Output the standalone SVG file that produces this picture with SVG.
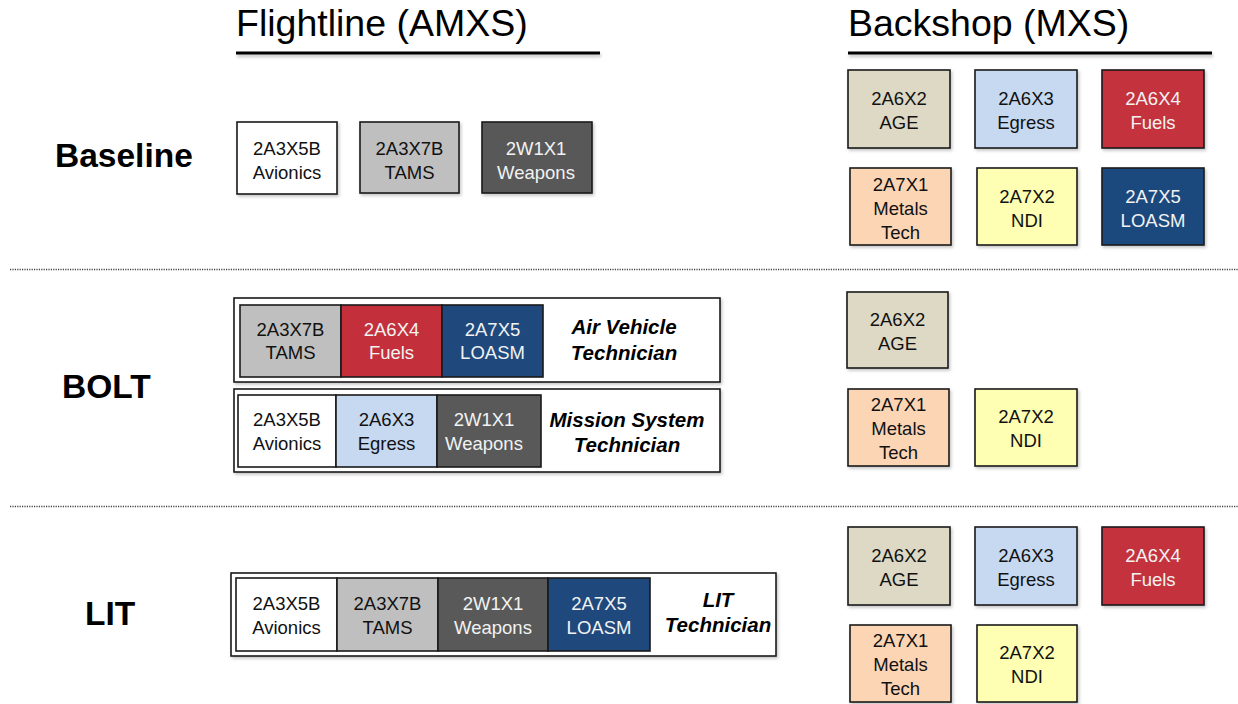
<svg xmlns="http://www.w3.org/2000/svg" width="1238" height="704" viewBox="0 0 1238 704">
  <defs>
    <filter id="shadow" x="-10%" y="-10%" width="130%" height="140%">
      <feDropShadow dx="1.5" dy="2" stdDeviation="1.5" flood-color="#000" flood-opacity="0.22"/>
    </filter>
    <filter id="rule-shadow" filterUnits="userSpaceOnUse" x="0" y="40" width="1238" height="30">
      <feDropShadow dx="1" dy="2.5" stdDeviation="1.5" flood-color="#000" flood-opacity="0.25"/>
    </filter>
    <style>
      .box { stroke: #1a1a1a; stroke-width: 1.6; filter: url(#shadow); }
      .cell { stroke: #1a1a1a; stroke-width: 1.6; }
      .frame { fill: #ffffff; stroke: #1a1a1a; stroke-width: 1.6; filter: url(#shadow); }
      .lbl { font-family: "Liberation Sans", Arial, sans-serif; font-size: 18.5px; text-anchor: middle; fill: #111; }
      .lbl.light { fill: #f2f2f2; }
      .head { font-family: "Liberation Sans", Arial, sans-serif; font-size: 37.5px; fill: #000; }
      .row { font-family: "Liberation Sans", Arial, sans-serif; font-size: 33.5px; font-weight: bold; fill: #000; }
      .role { font-family: "Liberation Sans", Arial, sans-serif; font-size: 20.5px; font-weight: bold; font-style: italic; text-anchor: middle; fill: #000; }
      .rule { fill: #000; filter: url(#rule-shadow); }
      .sep { stroke: #444; stroke-width: 1.5; stroke-dasharray: 1.2 1.2; }
      .white { fill: #ffffff; } .grey { fill: #bfbfbf; } .dark { fill: #595959; }
      .beige { fill: #ddd9c4; } .blue { fill: #c6d9f1; } .red { fill: #c3303c; }
      .peach { fill: #fcd5b5; } .yellow { fill: #ffffb3; } .navy { fill: #1f497d; }
    </style>
  </defs>

  <!-- column headings -->
  <g id="heading-flightline">
    <text class="head" x="236" y="36">Flightline (AMXS)</text>
    <rect class="rule" x="236" y="51.5" width="364" height="3"/>
  </g>
  <g id="heading-backshop">
    <text class="head" x="848" y="36">Backshop (MXS)</text>
    <rect class="rule" x="848" y="51.5" width="364" height="3"/>
  </g>

  <!-- row separators -->
  <g id="connectors">
    <line class="sep" x1="10" y1="269.5" x2="1238" y2="269.5"/>
    <line class="sep" x1="10" y1="506.5" x2="1238" y2="506.5"/>
  </g>

  <!-- row labels -->
  <text class="row" x="55" y="167">Baseline</text>
  <text class="row" x="62" y="398">BOLT</text>
  <text class="row" x="85" y="625">LIT</text>

  <!-- ===== Baseline: flightline ===== -->
  <g id="base-avionics">
    <rect class="box white" x="237" y="122" width="100" height="72"/>
    <text class="lbl" x="287" y="155">2A3X5B</text>
    <text class="lbl" x="287" y="179">Avionics</text>
  </g>
  <g id="base-tams">
    <rect class="box grey" x="360" y="122" width="99" height="71"/>
    <text class="lbl" x="409.5" y="155">2A3X7B</text>
    <text class="lbl" x="409.5" y="179">TAMS</text>
  </g>
  <g id="base-weapons">
    <rect class="box dark" x="482" y="122" width="110" height="71"/>
    <text class="lbl light" x="536" y="155">2W1X1</text>
    <text class="lbl light" x="536" y="179">Weapons</text>
  </g>

  <!-- ===== Baseline: backshop ===== -->
  <g id="base-age">
    <rect class="box beige" x="848" y="70" width="102" height="78"/>
    <text class="lbl" x="899" y="105">2A6X2</text>
    <text class="lbl" x="899" y="129">AGE</text>
  </g>
  <g id="base-egress">
    <rect class="box blue" x="975" y="70" width="102" height="78"/>
    <text class="lbl" x="1026" y="105">2A6X3</text>
    <text class="lbl" x="1026" y="129">Egress</text>
  </g>
  <g id="base-fuels">
    <rect class="box red" x="1102" y="70" width="102" height="78"/>
    <text class="lbl light" x="1153" y="105">2A6X4</text>
    <text class="lbl light" x="1153" y="129">Fuels</text>
  </g>
  <g id="base-metals">
    <rect class="box peach" x="850" y="168" width="101" height="77"/>
    <text class="lbl" x="900.5" y="191">2A7X1</text>
    <text class="lbl" x="900.5" y="215">Metals</text>
    <text class="lbl" x="900.5" y="239">Tech</text>
  </g>
  <g id="base-ndi">
    <rect class="box yellow" x="977" y="168" width="100" height="77"/>
    <text class="lbl" x="1027" y="203">2A7X2</text>
    <text class="lbl" x="1027" y="227">NDI</text>
  </g>
  <g id="base-loasm">
    <rect class="box navy" x="1102" y="168" width="102" height="77"/>
    <text class="lbl light" x="1153" y="203">2A7X5</text>
    <text class="lbl light" x="1153" y="227">LOASM</text>
  </g>

  <!-- ===== BOLT: flightline ===== -->
  <g id="bolt-air-vehicle">
    <rect class="frame" x="234" y="298" width="486" height="84"/>
    <rect class="cell grey" x="240" y="305" width="101" height="72"/>
    <text class="lbl" x="290.5" y="336">2A3X7B</text>
    <text class="lbl" x="290.5" y="359">TAMS</text>
    <rect class="cell red" x="341" y="305" width="101" height="72"/>
    <text class="lbl light" x="391.5" y="336">2A6X4</text>
    <text class="lbl light" x="391.5" y="359">Fuels</text>
    <rect class="cell navy" x="442" y="305" width="101" height="72"/>
    <text class="lbl light" x="492.5" y="336">2A7X5</text>
    <text class="lbl light" x="492.5" y="359">LOASM</text>
    <text class="role" x="624" y="334">Air Vehicle</text>
    <text class="role" x="624" y="360">Technician</text>
  </g>
  <g id="bolt-mission-system">
    <rect class="frame" x="234" y="389" width="486" height="83"/>
    <rect class="cell white" x="238" y="395" width="98" height="72"/>
    <text class="lbl" x="287" y="426">2A3X5B</text>
    <text class="lbl" x="287" y="450">Avionics</text>
    <rect class="cell blue" x="336" y="395" width="101" height="72"/>
    <text class="lbl" x="386.5" y="426">2A6X3</text>
    <text class="lbl" x="386.5" y="450">Egress</text>
    <rect class="cell dark" x="437" y="395" width="104" height="72"/>
    <text class="lbl light" x="484" y="426">2W1X1</text>
    <text class="lbl light" x="484" y="450">Weapons</text>
    <text class="role" x="627" y="427">Mission System</text>
    <text class="role" x="627" y="452">Technician</text>
  </g>

  <!-- ===== BOLT: backshop ===== -->
  <g id="bolt-age">
    <rect class="box beige" x="847" y="292" width="101" height="76"/>
    <text class="lbl" x="897.5" y="326">2A6X2</text>
    <text class="lbl" x="897.5" y="350">AGE</text>
  </g>
  <g id="bolt-metals">
    <rect class="box peach" x="848" y="389" width="101" height="77"/>
    <text class="lbl" x="898.5" y="411">2A7X1</text>
    <text class="lbl" x="898.5" y="435">Metals</text>
    <text class="lbl" x="898.5" y="459">Tech</text>
  </g>
  <g id="bolt-ndi">
    <rect class="box yellow" x="975" y="389" width="102" height="77"/>
    <text class="lbl" x="1026" y="423">2A7X2</text>
    <text class="lbl" x="1026" y="447">NDI</text>
  </g>

  <!-- ===== LIT: flightline ===== -->
  <g id="lit-technician">
    <rect class="frame" x="231" y="573" width="545" height="83"/>
    <rect class="cell white" x="236" y="578" width="101" height="73"/>
    <text class="lbl" x="286.5" y="610">2A3X5B</text>
    <text class="lbl" x="286.5" y="634">Avionics</text>
    <rect class="cell grey" x="337" y="578" width="101" height="73"/>
    <text class="lbl" x="387.5" y="610">2A3X7B</text>
    <text class="lbl" x="387.5" y="634">TAMS</text>
    <rect class="cell dark" x="438" y="578" width="110" height="73"/>
    <text class="lbl light" x="493" y="610">2W1X1</text>
    <text class="lbl light" x="493" y="634">Weapons</text>
    <rect class="cell navy" x="548" y="578" width="102" height="73"/>
    <text class="lbl light" x="599" y="610">2A7X5</text>
    <text class="lbl light" x="599" y="634">LOASM</text>
    <text class="role" x="718" y="607">LIT</text>
    <text class="role" x="718" y="632">Technician</text>
  </g>

  <!-- ===== LIT: backshop ===== -->
  <g id="lit-age">
    <rect class="box beige" x="848" y="527" width="102" height="78"/>
    <text class="lbl" x="899" y="562">2A6X2</text>
    <text class="lbl" x="899" y="586">AGE</text>
  </g>
  <g id="lit-egress">
    <rect class="box blue" x="975" y="527" width="102" height="78"/>
    <text class="lbl" x="1026" y="562">2A6X3</text>
    <text class="lbl" x="1026" y="586">Egress</text>
  </g>
  <g id="lit-fuels">
    <rect class="box red" x="1102" y="527" width="102" height="78"/>
    <text class="lbl light" x="1153" y="562">2A6X4</text>
    <text class="lbl light" x="1153" y="586">Fuels</text>
  </g>
  <g id="lit-metals">
    <rect class="box peach" x="850" y="625" width="101" height="77"/>
    <text class="lbl" x="900.5" y="647">2A7X1</text>
    <text class="lbl" x="900.5" y="671">Metals</text>
    <text class="lbl" x="900.5" y="695">Tech</text>
  </g>
  <g id="lit-ndi">
    <rect class="box yellow" x="977" y="625" width="100" height="77"/>
    <text class="lbl" x="1027" y="659">2A7X2</text>
    <text class="lbl" x="1027" y="683">NDI</text>
  </g>
</svg>
